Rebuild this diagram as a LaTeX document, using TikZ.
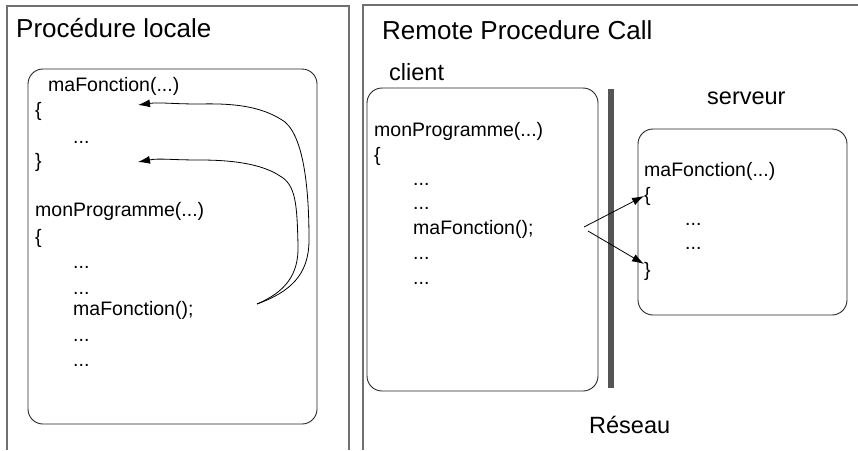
\documentclass[tikz,border=0pt]{standalone}
\usepackage{fontspec}
\setmainfont{Liberation Sans}
\usepackage{tikz}
\usetikzlibrary{arrows.meta,calc,positioning}
\definecolor{cadregris}{HTML}{707070}
\definecolor{reseaugris}{HTML}{555555}

\tikzset{
  code/.style={anchor=base west,inner sep=0pt,font=\fontsize{19.5}{22}\selectfont},
  titre/.style={anchor=base west,inner sep=0pt,font=\fontsize{26}{30}\selectfont},
  soustitre/.style={anchor=base west,inner sep=0pt,font=\fontsize{23.5}{28}\selectfont},
  boite/.style={draw=black!85,line width=0.9pt,rounded corners=15pt},
  cadre/.style={draw=cadregris,line width=1.3pt},
  fleche/.style={-{Latex[length=12pt,width=8pt]},line width=0.8pt}
}

\begin{document}
\begin{tikzpicture}[x=1pt,y=-1pt]
  \useasboundingbox (0,0) rectangle (858,450);
  \draw[cadre] (7,450)--(7,6)--(349,6)--(349,450);
  \draw[cadre] (363,450)--(363,5)--(858,5);

  % procedure locale
  \node[titre] (tloc) at (16,37) {Procédure locale};
  \draw[boite] (28,69) rectangle (317,424);
  \node[code] (lfonc) at (48,91) {maFonction(...)};
  \node[code] (lacco) at (35,116) {\{};
  \node[code] (lpts) at (73,143) {...};
  \node[code] (laccf) at (35,167) {\}};
  \node[code] (lprog) at (35,216) {monProgramme(...)};
  \node[code] (lacc2) at (35,243) {\{};
  \foreach \y in {268,294,341,366}{\node[code] (lp-\y) at (73,\y) {...};}
  \node[code] (lappel) at (73,315) {maFonction();};
  \coordinate (appel) at (257,304);
  \coordinate (entree) at (138,105);
  \coordinate (retour) at (138,162);
  \draw[fleche] (appel) .. controls (290,292) and (309,275) .. (309,240)
    .. controls (309,200) and (306,140) .. (285,122)
    .. controls (265,108) and (240,103) .. (200,104)
    .. controls (170,104) and (160,102) .. (entree);
  \draw[fleche] (appel) .. controls (285,292) and (299,275) .. (298,245)
    .. controls (297,205) and (296,185) .. (280,176)
    .. controls (265,166) and (240,160) .. (200,160)
    .. controls (170,160) and (160,158) .. (retour);

  % appel distant
  \node[titre] (trpc) at (382,39) {Remote Procedure Call};
  \node[soustitre] (tcli) at (389,80) {client};
  \node[soustitre] (tserv) at (707,104) {serveur};
  \node[soustitre] (tres) at (589,433) {Réseau};
  \draw[boite] (367,88) rectangle (598,391);
  \draw[boite] (638,129) rectangle (847,315);
  \draw[reseaugris,line width=6pt] (611,89)--(611,388);

  \node[code] (cprog) at (374,136) {monProgramme(...)};
  \node[code] (cacco) at (374,161) {\{};
  \foreach \y in {185,209,259,284}{\node[code] (cp-\y) at (413,\y) {...};}
  \node[code] (cappel) at (413,234) {maFonction();};
  \node[code] (sfonc) at (644,176) {maFonction(...)};
  \node[code] (sacco) at (644,201) {\{};
  \node[code] (spts1) at (685,225) {...};
  \node[code] (spts2) at (685,249) {...};
  \node[code] (saccf) at (644,276) {\}};
  \coordinate (depart1) at (584,227);
  \coordinate (depart2) at (588,231);
  \draw[fleche] (depart1) -- (sacco.west);
  \draw[fleche] (depart2) -- ($(saccf.west)+(0,-7)$);
\end{tikzpicture}
\end{document}
